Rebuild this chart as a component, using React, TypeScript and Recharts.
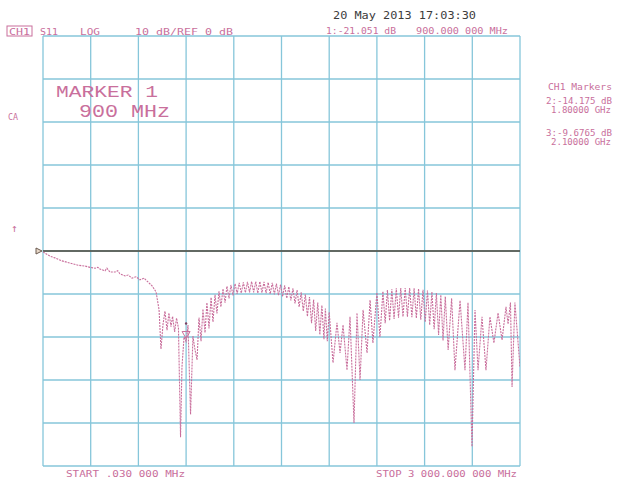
import React from "react";
import {
  LineChart,
  Line,
  XAxis,
  YAxis,
  ReferenceLine,
  ReferenceDot,
} from "recharts";

// S11 trace: [frequency MHz, magnitude dB]
const s11Trace: [number, number][] = [
  [0.03, -0.2], [44, -1.2], [75, -1.6], [120, -2.3], [170, -2.8], [220, -3.3],
  [264, -3.5], [296, -3.8], [327, -4.0], [345, -3.8], [358, -4.2], [390, -4.6],
  [402, -4.0], [421, -4.9], [453, -4.9], [470, -4.6], [484, -5.3], [516, -5.8],
  [535, -5.6], [560, -6.3], [585, -6.0], [610, -6.7], [635, -6.3], [660, -7.2],
  [686, -8.1], [711, -9.5], [730, -13.7], [742, -22.8], [755, -17.0], [767, -14.0],
  [780, -18.4], [792, -14.4], [805, -17.6], [815, -15.2], [828, -18.8], [840, -15.6],
  [852, -18.0], [865, -43.3], [874, -27.0], [887, -20.0], [900, -21.05], [912, -17.2],
  [928, -38.0], [943, -19.8], [956, -23.0], [969, -25.3], [981, -15.5], [994, -21.0],
  [1006, -13.5], [1019, -19.0], [1031, -12.0], [1044, -18.0], [1057, -10.8], [1069, -16.5],
  [1082, -10.2], [1094, -14.5], [1107, -9.4], [1119, -13.0], [1132, -8.8], [1145, -12.0],
  [1157, -8.2], [1170, -11.0], [1182, -7.9], [1195, -10.3], [1208, -7.6], [1221, -10.0],
  [1234, -7.4], [1247, -9.8], [1260, -7.3], [1273, -9.7], [1286, -7.2], [1299, -9.6],
  [1312, -7.1], [1325, -9.6], [1338, -7.1], [1351, -9.8], [1364, -7.1], [1377, -9.7],
  [1390, -7.2], [1403, -9.8], [1416, -7.3], [1429, -10.0], [1442, -7.4], [1455, -10.1],
  [1468, -7.6], [1481, -10.3], [1494, -7.8], [1507, -10.6], [1520, -8.0], [1533, -11.0],
  [1546, -8.3], [1559, -11.5], [1572, -8.7], [1585, -12.2], [1598, -9.1], [1611, -13.0],
  [1624, -9.6], [1637, -14.0], [1650, -10.1], [1663, -15.2], [1676, -10.7], [1689, -16.8],
  [1702, -11.3], [1715, -18.6], [1728, -12.0], [1741, -19.5], [1754, -12.6], [1767, -20.5],
  [1776, -13.4], [1788, -21.0], [1800, -14.2], [1824, -26.0], [1849, -16.7], [1868, -23.7],
  [1887, -17.2], [1912, -27.7], [1931, -15.3], [1956, -40.0], [1975, -14.4], [1994, -30.0],
  [2013, -13.7], [2038, -23.7], [2057, -11.4], [2075, -21.4], [2100, -9.68], [2119, -20.0],
  [2138, -9.4], [2152, -16.8], [2166, -9.1], [2180, -16.2], [2194, -8.9], [2208, -15.8],
  [2222, -8.7], [2236, -15.5], [2250, -8.6], [2264, -15.3], [2278, -8.6], [2292, -15.3],
  [2306, -8.6], [2320, -15.4], [2334, -8.7], [2348, -15.6], [2362, -8.8], [2376, -16.0],
  [2390, -9.0], [2404, -16.5], [2418, -9.2], [2432, -17.2], [2446, -9.5], [2460, -18.2],
  [2474, -9.8], [2488, -19.5], [2502, -10.2], [2516, -20.8], [2530, -10.6], [2548, -23.0],
  [2570, -11.0], [2591, -27.7], [2623, -11.5], [2654, -27.7], [2673, -12.0], [2698, -45.5],
  [2717, -13.7], [2736, -27.7], [2761, -15.3], [2786, -27.7], [2811, -15.3], [2836, -21.4],
  [2862, -14.4], [2887, -20.7], [2912, -13.0], [2925, -17.0], [2940, -12.0], [2950, -31.6],
  [2968, -12.0], [2985, -20.0], [3000, -27.0],
];

const freqGrid = [0.03, 300, 600, 900, 1200, 1500, 1800, 2100, 2400, 2700, 3000];
const dbGrid = [-50, -40, -30, -20, -10, 0, 10, 20, 30, 40, 50];
const refLevelDb = 0;
const marker1 = { freq: 900, db: -21.051 };

const headerLeft = ["CH1", "S11", "LOG", "10 dB/REF 0 dB"];
const dateStamp = "20 May 2013  17:03:30";
const marker1Readout = ["1:-21.051 dB", "900.000 000 MHz"];
const markerPanel = ["CH1 Markers", "2:-14.175 dB", "1.80000 GHz", "3:-9.6765 dB", "2.10000 GHz"];
const markerBig = ["MARKER 1", "900 MHz"];
const footer = ["START  .030 000 MHz", "STOP 3 000.000 000 MHz"];
const sideLabels = ["CA", "↑"];

const data = s11Trace.map(([f, db]) => ({ f, db }));

const PINK = "#c96f9c";
const GRID = "#86c6da";
const MONO = "'DejaVu Sans Mono', monospace";

const MarkerTriangle = (props: any) => {
  const { cx, cy } = props;
  if (cx == null || cy == null) return null;
  const t = cy - 3;
  return (
    <g>
      <path d={`M${cx - 4},${t - 7} L${cx + 4},${t - 7} L${cx},${t} Z`} fill="none" stroke={PINK} strokeWidth={1} />
      <circle cx={cx} cy={t - 15} r={1.2} fill="#7a4060" />
    </g>
  );
};

const RefPosMarker = (props: any) => {
  const { cx, cy } = props;
  if (cx == null || cy == null) return null;
  return (
    <path
      d={`M${cx - 7},${cy - 3} L${cx - 1},${cy} L${cx - 7},${cy + 3} Z`}
      fill="#e8d8c8"
      stroke="#6a5a50"
      strokeWidth={1}
    />
  );
};

const T = (p: any) => (
  <text
    x={p.x}
    y={p.y}
    fontFamily={p.font || MONO}
    fontSize={p.size || 9}
    fill={p.fill || PINK}
    textLength={p.w}
    lengthAdjust={p.w ? "spacingAndGlyphs" : undefined}
  >
    {p.children}
  </text>
);

export default function App() {
  return (
    <div
      style={{
        position: "absolute",
        left: 0,
        top: 0,
        width: 619,
        height: 479,
        overflow: "hidden",
        background: "#fff",
      }}
    >
      <LineChart
        width={619}
        height={479}
        data={data}
        margin={{ top: 36, left: 43, right: 99, bottom: 13 }}
      >
        <XAxis
          dataKey="f"
          type="number"
          domain={[0.03, 3000]}
          ticks={freqGrid}
          hide
          allowDataOverflow
        />
        <YAxis
          type="number"
          domain={[-50, 50]}
          ticks={dbGrid}
          hide
          allowDataOverflow
        />
        {freqGrid.map((f) => (
          <ReferenceLine key={`vx${f}`} x={f} stroke={GRID} strokeWidth={1.3} />
        ))}
        {dbGrid.map((d) => (
          <ReferenceLine key={`hy${d}`} y={d} stroke={GRID} strokeWidth={1.3} />
        ))}
        <ReferenceLine y={refLevelDb} stroke="#4d4638" strokeWidth={1.6} />
        <Line
          dataKey="db"
          type="linear"
          stroke={PINK}
          strokeWidth={1.1}
          strokeDasharray="2 1"
          dot={false}
          isAnimationActive={false}
        />
        <ReferenceDot x={marker1.freq} y={marker1.db} r={4} shape={MarkerTriangle} />
        <ReferenceDot x={0.03} y={refLevelDb} r={4} shape={RefPosMarker} />
      </LineChart>
      <svg
        width={619}
        height={479}
        style={{ position: "absolute", left: 0, top: 0, pointerEvents: "none" }}
      >
        <rect x={7} y={26} width={25} height={10} fill="none" stroke={PINK} strokeWidth={1} />
        <T x={9} y={34.5} w={21} size={9}>{headerLeft[0]}</T>
        <T x={40} y={34.5} w={18} size={9.5}>{headerLeft[1]}</T>
        <T x={80} y={34.5} w={20} size={9.5}>{headerLeft[2]}</T>
        <T x={135} y={34.5} w={98} size={9.5}>{headerLeft[3]}</T>
        <T x={333} y={19} w={143} size={10.5} fill="#3c3c3c">{dateStamp}</T>
        <T x={326} y={34} w={70} size={9.5}>{marker1Readout[0]}</T>
        <T x={416} y={34} w={92} size={9.5}>{marker1Readout[1]}</T>
        <T x={548} y={90} w={64} size={8.5}>{markerPanel[0]}</T>
        <T x={546} y={104} w={66} size={8.5}>{markerPanel[1]}</T>
        <T x={551} y={113} w={60} size={8.5}>{markerPanel[2]}</T>
        <T x={546} y={136} w={66} size={8.5}>{markerPanel[3]}</T>
        <T x={551} y={145} w={60} size={8.5}>{markerPanel[4]}</T>
        <T x={56} y={97} w={102} size={17} font="'Liberation Mono', monospace">{markerBig[0]}</T>
        <T x={79} y={117} w={91} size={18} font="'Liberation Mono', monospace">{markerBig[1]}</T>
        <T x={66} y={477} w={119} size={8.5}>{footer[0]}</T>
        <T x={376} y={477} w={141} size={8.5}>{footer[1]}</T>
        <T x={8} y={120} w={10} size={8.5}>{sideLabels[0]}</T>
        <T x={11} y={232} size={11}>{sideLabels[1]}</T>
      </svg>
    </div>
  );
}
